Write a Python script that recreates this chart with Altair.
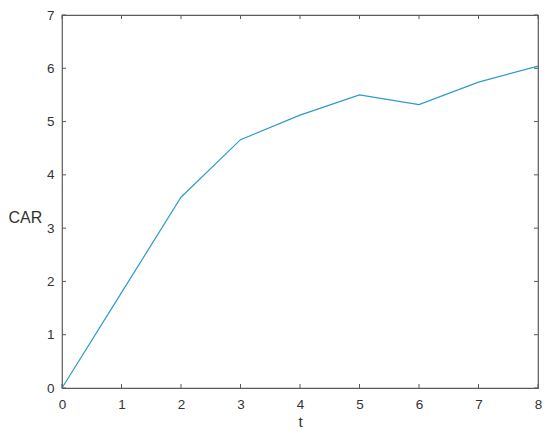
import altair as alt
import pandas as pd

t_vals = [0, 1, 2, 3, 4, 5, 6, 7, 8]
car_vals = [0.0, 1.79, 3.58, 4.66, 5.12, 5.50, 5.32, 5.74, 6.04]
x_ticks = [0, 1, 2, 3, 4, 5, 6, 7, 8]
y_ticks = [0, 1, 2, 3, 4, 5, 6, 7]

W, H = 476, 373
TL = 4
AX = "#5a5a5a"
TXT = "#333333"
FONT = "Liberation Sans"

df = pd.DataFrame({"t": t_vals, "CAR": car_vals})
dfx = pd.DataFrame({"xt": x_ticks})
dfy = pd.DataFrame({"yt": y_ticks})

xs = alt.Scale(domain=[0, 8], nice=False, zero=False)
ys = alt.Scale(domain=[0, 7], nice=False, zero=False)

line = alt.Chart(df).mark_line(color="#2e9bcb", strokeWidth=1.2).encode(
    x=alt.X("t:Q", scale=xs, axis=alt.Axis(
        title="t", values=x_ticks, format="d", ticks=False, domain=False, grid=False,
        labelPadding=9, labelFlush=False, labelFontSize=13.5, labelColor=TXT, labelFont=FONT,
        titleFontSize=15, titleFontWeight="normal", titleColor=TXT, titleFont=FONT,
        titleY=38, titleBaseline="alphabetic")),
    y=alt.Y("CAR:Q", scale=ys, axis=alt.Axis(
        title="CAR", values=y_ticks, format="d", ticks=False, domain=False, grid=False,
        labelPadding=8, labelFlush=False, labelFontSize=13.5, labelColor=TXT, labelFont=FONT,
        titleFontSize=16, titleFontWeight="normal", titleColor=TXT, titleFont=FONT,
        titleAngle=0, titleAlign="left", titleBaseline="middle", titleX=-54, titleY=202)),
)

xb = alt.Chart(dfx).mark_rule(color=AX, strokeWidth=1).encode(
    x=alt.X("xt:Q", scale=xs, title="t"), y=alt.value(H), y2=alt.value(H - TL))
xt = alt.Chart(dfx).mark_rule(color=AX, strokeWidth=1).encode(
    x=alt.X("xt:Q", scale=xs, title="t"), y=alt.value(0), y2=alt.value(TL))
yl = alt.Chart(dfy).mark_rule(color=AX, strokeWidth=1).encode(
    y=alt.Y("yt:Q", scale=ys, title="CAR"), x=alt.value(0), x2=alt.value(TL))
yr = alt.Chart(dfy).mark_rule(color=AX, strokeWidth=1).encode(
    y=alt.Y("yt:Q", scale=ys, title="CAR"), x=alt.value(W), x2=alt.value(W - TL))

chart = alt.layer(line, xb, xt, yl, yr).properties(
    width=W, height=H,
    autosize=alt.AutoSizeParams(type="none"),
    padding={"left": 54, "top": 7, "right": 4, "bottom": 41},
).configure(background="white").configure_view(stroke=AX, strokeWidth=1.2)

chart.save("out.html", embed_options={"renderer": "svg", "actions": False})
